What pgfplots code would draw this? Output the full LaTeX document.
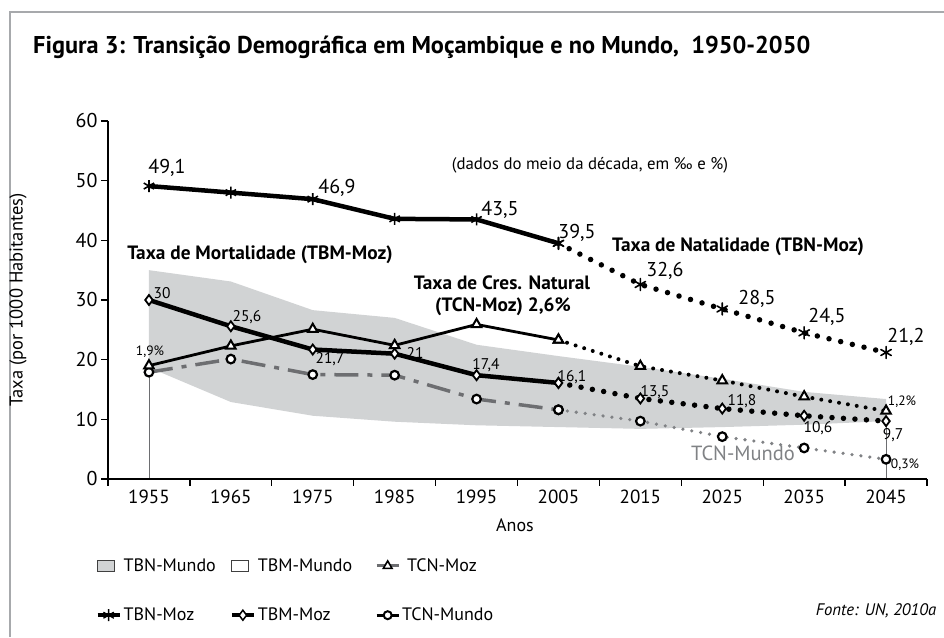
\documentclass[border=0pt]{standalone}
\usepackage{fontspec}
\setmainfont{PT Sans}
\usepackage{pgfplots}
\pgfplotsset{compat=1.18}
\usepgfplotslibrary{fillbetween}
\definecolor{band}{HTML}{D1D3D4}
\definecolor{dgray}{HTML}{6D6E71}
\definecolor{mgray}{HTML}{808285}
\definecolor{frame}{HTML}{A7A9AC}
\newcommand{\fs}[1]{\fontsize{#1}{#1}\selectfont}
\begin{document}
\begin{tikzpicture}
\begin{scope}[x=1pt,y=1pt]
\useasboundingbox (0,0) rectangle (944,637);
\draw[line width=2.5pt, color=frame] (10,0) -- (10,625) -- (944,625);
\end{scope}
\begin{axis}[
  at={(108pt,158pt)}, anchor=south west,
  scale only axis, width=819pt, height=358pt,
  xmin=1950, xmax=2050, ymin=0, ymax=60,
  axis lines=left, axis line style={line width=2.4pt, -},
  xtick={1955,1965,...,2045}, minor xtick={1950,1960,...,2050},
  major x tick style={draw=none},
  ytick={0,10,...,60},
  tick align=outside, major tick length=7pt, minor tick length=7pt,
  tick style={line width=1.3pt, black},
  xticklabel style={font=\fs{19}, /pgf/number format/1000 sep={}},
  yticklabel style={font=\fs{20}},
  /pgf/number format/assume math mode=true,
  axis on top, clip=false,
  legend columns=3,
  legend cell align=left,
  legend style={at={(axis description cs:-0.019,-0.211)}, anchor=north west,
    draw=none, fill=none, font=\fs{18}, row sep=31pt,
    /tikz/every even column/.append style={column sep=12pt}},
  legend image code/.code={\draw[mark repeat=2,mark phase=2] plot coordinates {(0pt,0pt) (11pt,0pt) (22pt,0pt)};},
]
% world band
\addplot[name path=up, draw=none, forget plot] coordinates {(1955,35.0)(1965,33.1)(1975,28.3)(1985,27.0)(1995,22.5)(2005,20.6)(2015,18.8)(2025,16.8)(2035,14.6)(2045,13.4)};
\addplot[name path=lo, draw=none, forget plot] coordinates {(1955,18.7)(1965,12.9)(1975,10.6)(1985,9.6)(1995,9.0)(2005,8.7)(2015,8.4)(2025,8.7)(2035,9.1)(2045,9.7)};
\addplot[band, forget plot] fill between[of=up and lo];
% drop lines
\addplot[dgray, line width=0.8pt, forget plot] coordinates {(1955,0)(1955,18)};
\addplot[dgray, line width=0.8pt, forget plot] coordinates {(2045,0)(2045,9.7)};
% TCN-Mundo
\addplot[mgray, line width=3.6pt, line cap=round, dash pattern=on 0pt off 9pt, mark=*, mark size=4.3pt, mark options={solid, fill=white, draw=black, line width=2.2pt}, forget plot] coordinates {(2005,11.6)(2015,9.7)(2025,7.1)(2035,5.2)(2045,3.3)};
\addplot[dgray, line width=3.5pt, dash pattern=on 24pt off 9pt on 5pt off 9pt, mark=*, mark size=4.3pt, mark options={solid, fill=white, draw=black, line width=2.2pt}, forget plot] coordinates {(1955,17.9)(1965,20.1)(1975,17.5)(1985,17.4)(1995,13.4)(2005,11.6)};
% TCN-Moz
\addplot[black, line width=4pt, line cap=round, dash pattern=on 0pt off 9pt, mark=triangle*, mark size=5.5pt, mark options={solid, fill=white, draw=black, line width=2pt}, forget plot] coordinates {(2005,23.3)(2015,18.9)(2025,16.5)(2035,13.8)(2045,11.4)};
\addplot[black, line width=2.8pt, mark=triangle*, mark size=5.5pt, mark options={solid, fill=white, draw=black, line width=2pt}, forget plot] coordinates {(1955,19.0)(1965,22.3)(1975,25.1)(1985,22.4)(1995,25.9)(2005,23.3)};
% TBM-Moz
\addplot[black, line width=5.5pt, line cap=round, dash pattern=on 0pt off 11.5pt, mark=diamond*, mark size=5pt, mark options={solid, fill=white, draw=black, line width=1.8pt}, forget plot] coordinates {(2005,16.1)(2015,13.5)(2025,11.8)(2035,10.6)(2045,9.7)};
\addplot[black, line width=4.5pt, mark=diamond*, mark size=5pt, mark options={solid, fill=white, draw=black, line width=1.8pt}, forget plot] coordinates {(1955,30.0)(1965,25.6)(1975,21.7)(1985,21.0)(1995,17.4)(2005,16.1)};
% TBN-Moz
\addplot[black, line width=5.5pt, line cap=round, dash pattern=on 0pt off 12pt, mark=asterisk, mark size=6pt, mark options={solid, draw=black, line width=1.6pt}, forget plot] coordinates {(2005,39.5)(2015,32.6)(2025,28.5)(2035,24.5)(2045,21.2)};
\addplot[black, line width=4.5pt, mark=asterisk, mark size=6pt, mark options={solid, draw=black, line width=1.6pt}, forget plot] coordinates {(1955,49.1)(1965,48.0)(1975,46.9)(1985,43.6)(1995,43.5)(2005,39.5)};
% legend
\addlegendimage{legend image code/.code={\draw[fill=band, draw=black!75, line width=0.9pt] (0pt,-5.5pt) rectangle (17pt,5.5pt);}}
\addlegendentry{TBN-Mundo}
\addlegendimage{legend image code/.code={\draw[fill=white, draw=black!75, line width=0.9pt] (0pt,-5.5pt) rectangle (17pt,5.5pt);}}
\addlegendentry{TBM-Mundo\hspace*{9pt}}
\addlegendimage{dgray, line width=3pt, mark=triangle*, mark size=5pt, mark options={fill=white, draw=black, line width=1.6pt}}
\addlegendentry{\hspace*{5pt}TCN-Moz}
\addlegendimage{black, line width=4pt, mark=asterisk, mark size=6pt, mark options={draw=black, line width=1.3pt}}
\addlegendentry{TBN-Moz}
\addlegendimage{black, line width=4pt, mark=diamond*, mark size=5pt, mark options={fill=white, draw=black, line width=1.5pt}}
\addlegendentry{TBM-Moz}
\addlegendimage{black, line width=3pt, mark=*, mark size=4pt, mark options={fill=white, draw=black, line width=2pt}}
\addlegendentry{TCN-Mundo}
\end{axis}
\begin{scope}[x=1pt,y=1pt]
% title and texts
\node[anchor=west, font=\fs{24.3}\bfseries, inner sep=0pt] at (33,590) {Figura 3: Transição Demográfica em Moçambique e no Mundo,~~1950-2050};
\node[font=\fs{16.8}] at (590,472) {(dados do meio da década, em ‰ e \%)};
\node[font=\fs{19.3}\bfseries] at (260,382) {Taxa de Mortalidade (TBM-Moz)};
\node[font=\fs{19.3}\bfseries] at (502,354) {Taxa de Cres. Natural};
\node[font=\fs{19.3}\bfseries] at (503,330) {(TCN-Moz) 2,6\%};
\node[font=\fs{19.3}\bfseries] at (738,390) {Taxa de Natalidade (TBN-Moz)};
\node[font=\fs{20.5}, text=mgray] at (743,184) {TCN-Mundo};
% TBN labels
\begin{scope}[every node/.style={font=\fs{20}}]
\node at (167,469) {49,1};
\node at (337,449) {46,9};
\node at (500,427) {43,5};
\node at (577,404) {39,5};
\node at (665,366) {32,6};
\node at (757,338) {28,5};
\node at (827,320) {24,5};
\node at (906,300) {21,2};
\end{scope}
\begin{scope}[every node/.style={font=\fs{15.5}}]
\node at (162,344) {30};
\node at (247,320) {25,6};
\node at (330,278) {21,7};
\node at (415,284) {21};
\node at (486,272) {17,4};
\node at (572,260) {16,1};
\node at (655,245) {13,5};
\node at (742,236) {11,8};
\node at (818,209) {10,6};
\node at (893,202) {9,7};
\end{scope}
\begin{scope}[every node/.style={font=\fs{13.5}}]
\node at (150,285) {1,9\%};
\node at (902,235) {1,2\%};
\node at (905,172) {0,3\%};
\end{scope}
\node[font=\fs{18.5}, rotate=90] at (18,337) {Taxa (por 1000 Habitantes)};
\node[font=\fs{18}] at (515,112) {Anos};
\node[font=\fs{16.7}\itshape] at (876,26) {Fonte: UN, 2010a};
\end{scope}
\end{tikzpicture}
\end{document}
